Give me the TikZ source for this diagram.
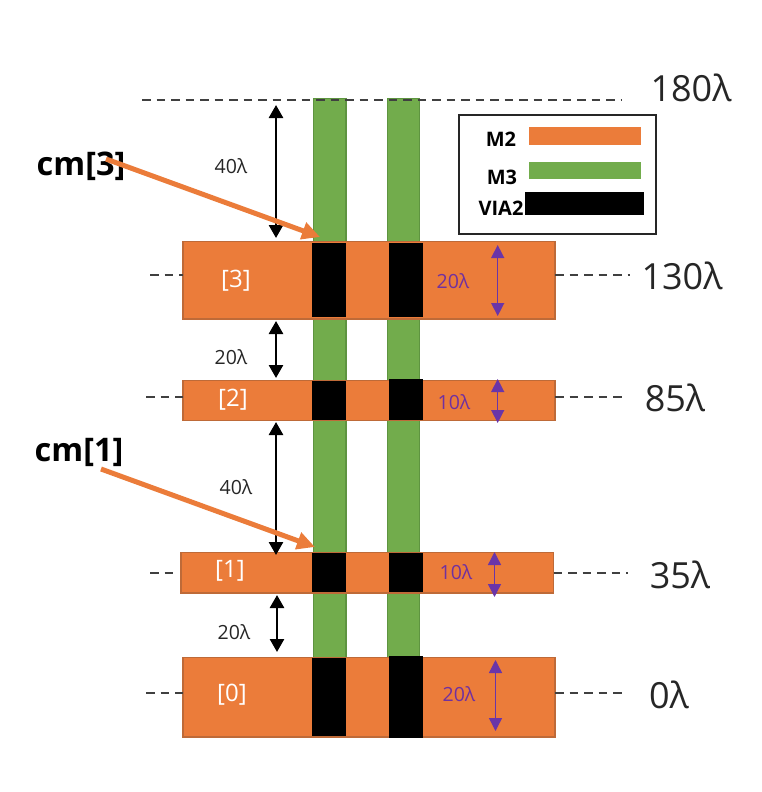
\documentclass[tikz,border=0pt]{standalone}
\usepackage{fontspec}
\setmainfont{Open Sans}
\usetikzlibrary{arrows.meta,calc}
\definecolor{mtwo}{HTML}{EB7C3A}
\definecolor{mtwoedge}{HTML}{BE6A38}
\definecolor{mthree}{HTML}{72AC4C}
\definecolor{mthreeedge}{HTML}{5E9440}
\definecolor{dim}{HTML}{7030A0}
\definecolor{dimline}{HTML}{6A35A8}
\definecolor{dashc}{HTML}{404040}
\definecolor{txt}{HTML}{262626}
\newcommand{\rectnode}[6]{%
  \pgfmathsetmacro{\rw}{#5-#3}\pgfmathsetmacro{\rh}{#6-#4}%
  \node[#2,anchor=north west,minimum width=\rw pt,minimum height=\rh pt,inner sep=0pt,outer sep=0pt] (#1) at (#3,#4) {};}
\tikzset{
  mtwobar/.style={fill=mtwo,draw=mtwoedge,line width=1.2pt},
  mthreebar/.style={fill=mthree,draw=mthreeedge,line width=1.2pt},
  viabar/.style={fill=black},
  mtwokey/.style={fill=mtwo},
  mthreekey/.style={fill=mthree},
  levelline/.style={dashc,line width=1.9pt,dash pattern=on 8.5pt off 6pt},
  gaparrow/.style={black,line width=2.6pt,{Triangle[width=14pt,length=13pt]}-{Triangle[width=14pt,length=13pt]}},
  widtharrow/.style={dimline,line width=1.4pt,{Triangle[width=13pt,length=13pt]}-{Triangle[width=13pt,length=13pt]}},
  callout/.style={mtwo,line width=5pt,-{Triangle[width=17pt,length=18pt]}},
  gaplabel/.style={txt,font=\fontsize{19.5}{22}\selectfont,inner sep=0pt},
  dimlabel/.style={dim,font=\fontsize{19.5}{22}\selectfont,inner sep=0pt},
  lvllabel/.style={txt,font=\fontsize{36}{40}\selectfont,inner sep=0pt},
  netlabel/.style={black,font=\fontsize{32.5}{36}\bfseries\selectfont,inner sep=0pt},
  idxlabel/.style={white,font=\fontsize{24}{28}\selectfont,inner sep=0pt},
  keylabel/.style={black,font=\fontsize{20}{22}\bfseries\selectfont,inner sep=0pt},
}
\begin{document}
\begin{tikzpicture}[x=1pt,y=-1pt]
\useasboundingbox (0,0) rectangle (762,792);
% M3 rails
\rectnode{ga}{mthreebar}{313.5}{98.5}{346}{737}
\rectnode{gb}{mthreebar}{387.5}{98.5}{419.5}{737}
% top level line
\coordinate (t0) at (142,100);
\coordinate (t1) at (622,100);
\draw[levelline] (t0) -- (t1);
% M2 bars
\rectnode{b3}{mtwobar}{183}{241.5}{555}{319}
\rectnode{b2}{mtwobar}{183}{380.5}{555}{420.5}
\rectnode{b1}{mtwobar}{181}{552.5}{553.5}{593}
\rectnode{b0}{mtwobar}{183}{657.5}{555}{737}
% vias
\rectnode{va3}{viabar}{312}{243}{346}{317}
\rectnode{va2}{viabar}{312}{380.5}{346}{420}
\rectnode{va1}{viabar}{312}{552.5}{346}{592}
\rectnode{va0}{viabar}{312}{657.5}{346}{736}
\rectnode{vb3}{viabar}{388.5}{243}{422.5}{316.5}
\rectnode{vb2}{viabar}{388.5}{379}{422.5}{419.5}
\rectnode{vb1}{viabar}{388.5}{553}{422.5}{592}
\rectnode{vb0}{viabar}{388.5}{655.5}{422.5}{738}
% level lines
\coordinate (l3) at (150,275); \coordinate (r3) at (630,275);
\coordinate (l2) at (146,397); \coordinate (r2) at (625,397);
\coordinate (l1) at (150,573); \coordinate (r1) at (628,573);
\coordinate (l0) at (146,693); \coordinate (r0) at (625,693);
\draw[levelline] (l3) -- (l3 -| b3.west);
\draw[levelline] (l2) -- (l2 -| b2.west);
\draw[levelline] (l1) -- ($(l1 -| b1.west)+(-5,0)$);
\draw[levelline] (l0) -- (l0 -| b0.west);
\draw[levelline] (r3 -| b3.east) -- (r3);
\draw[levelline] (r2 -| b2.east) -- (r2);
\draw[levelline] (r1 -| b1.east) -- (r1);
\draw[levelline] (r0 -| b0.east) -- (r0);
% gap arrows
\coordinate (g3a) at (276,105); \coordinate (g3b) at (276,238);
\coordinate (g2a) at (276,321); \coordinate (g2b) at (276,378);
\coordinate (g1a) at (276,422); \coordinate (g1b) at (276,555);
\coordinate (g0a) at (277,595); \coordinate (g0b) at (277,652);
\draw[gaparrow] (g3a) -- (g3b);
\draw[gaparrow] (g2a) -- (g2b);
\draw[gaparrow] (g1a) -- (g1b);
\draw[gaparrow] (g0a) -- (g0b);
% width arrows
\coordinate (w3a) at (497.7,245); \coordinate (w3b) at (497.7,316);
\coordinate (w2a) at (497.7,379); \coordinate (w2b) at (497.7,423);
\coordinate (w1a) at (494.5,552); \coordinate (w1b) at (494.5,597);
\coordinate (w0a) at (495.5,660); \coordinate (w0b) at (495.5,731);
\draw[widtharrow] (w3a) -- (w3b);
\draw[widtharrow] (w2a) -- (w2b);
\draw[widtharrow] (w1a) -- (w1b);
\draw[widtharrow] (w0a) -- (w0b);
% gap labels
\node[gaplabel] (tg3) at (231,166) {40λ};
\node[gaplabel] (tg2) at (231,357) {20λ};
\node[gaplabel] (tg1) at (236,487) {40λ};
\node[gaplabel] (tg0) at (234,632) {20λ};
% width labels
\node[dimlabel] (tw3) at (453,281) {20λ};
\node[dimlabel] (tw2) at (454,402) {10λ};
\node[dimlabel] (tw1) at (456,572) {10λ};
\node[dimlabel] (tw0) at (459,694) {20λ};
% level labels
\node[lvllabel] (lv4) at (691,88) {180λ};
\node[lvllabel] (lv3) at (682,276) {130λ};
\node[lvllabel] (lv2) at (675,398) {85λ};
\node[lvllabel] (lv1) at (680,575) {35λ};
\node[lvllabel] (lv0) at (669,695) {0λ};
% bus indices
\node[idxlabel] (i3) at (236,281) {[3]};
\node[idxlabel] (i2) at (233,400) {[2]};
\node[idxlabel] (i1) at (230,571) {[1]};
\node[idxlabel] (i0) at (232,695) {[0]};
% net names and callouts
\node[netlabel] (cmt) at (81,166) {cm[3]};
\node[netlabel] (cmb) at (79,452) {cm[1]};
\coordinate (ct0) at (106,159); \coordinate (ct1) at (320,237);
\coordinate (cb0) at (101,469); \coordinate (cb1) at (315,547);
\draw[callout] (ct0) -- (ct1);
\draw[callout] (cb0) -- (cb1);
% legend
\rectnode{key}{draw=black!85,line width=1.6pt}{459}{115}{656}{234}
\rectnode{k2}{mtwokey}{528.5}{127}{641}{144.5}
\rectnode{k3}{mthreekey}{528.5}{161.5}{641}{179}
\rectnode{kv}{viabar}{525}{191.5}{643.5}{214.5}
\node[keylabel] (tk2) at (501,139) {M2};
\node[keylabel] (tk3) at (502,177) {M3};
\node[keylabel] (tkv) at (501,208) {VIA2};
\end{tikzpicture}
\end{document}
